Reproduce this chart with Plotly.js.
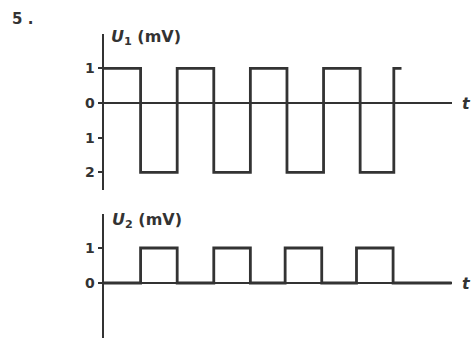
<!DOCTYPE html>
<html>
<head>
<meta charset="utf-8">
<script src="https://cdn.plot.ly/plotly-3.0.1.min.js"></script>
<style>html,body{margin:0;padding:0;background:#fff;}#chart{width:474px;height:338px;}</style>
</head>
<body>
<div id="chart"></div>
<script>
// U1 square wave: switching times (t) and levels (mV, drawn downward as negative)
const u1Time = [0, 1, 2, 3, 4, 5, 6, 7, 7.92, 8.13];
const u1Level = [1, -2, 1, -2, 1, -2, 1, -2, 1, 1];
// U2 pulse train
const u2Time = [0, 1, 2, 3, 4, 4.95, 5.95, 6.9, 7.9, 9.5];
const u2Level = [0, 1, 0, 1, 0, 1, 0, 1, 0, 0];
// tick labels
const u1TickVals = [1, 0, -1, -2];
const u1TickText = ['<b>1</b>', '<b>0</b>', '<b>1</b>', '<b>2</b>'];
const u2TickVals = [1, 0];
const u2TickText = ['<b>1</b>', '<b>0</b>'];

const ink = '#333333';
const W = 474, H = 338;
const px = x => x / W;
const py = y => 1 - y / H;

const traces = [
  {x: u1Time, y: u1Level, xaxis: 'x', yaxis: 'y', mode: 'lines',
   line: {shape: 'hv', color: ink, width: 2.8}, hoverinfo: 'skip'},
  {x: u2Time, y: u2Level, xaxis: 'x2', yaxis: 'y2', mode: 'lines',
   line: {shape: 'hv', color: ink, width: 2.8}, hoverinfo: 'skip'}
];

const txtFamily = 'DejaVu Sans, Liberation Sans, sans-serif';
const tickFont = {family: txtFamily, size: 14, color: ink};
const xCommon = {range: [0, 9.51], showgrid: false, zeroline: false, showline: false,
                 showticklabels: false, ticks: '', fixedrange: true};
const yCommon = {showgrid: false, zeroline: true, zerolinecolor: ink, zerolinewidth: 2.6,
                 showline: true, linecolor: ink, linewidth: 2.4, ticks: 'outside',
                 ticklen: 4, tickwidth: 2, tickcolor: ink, tickfont: tickFont, fixedrange: true};

const labelFont = {family: txtFamily, size: 16, color: ink};
const layout = {
  width: W, height: H,
  margin: {l: 0, r: 0, t: 0, b: 0},
  paper_bgcolor: '#ffffff', plot_bgcolor: 'rgba(0,0,0,0)',
  showlegend: false,
  xaxis: Object.assign({}, xCommon, {domain: [px(104), px(452)], anchor: 'y'}),
  xaxis2: Object.assign({}, xCommon, {domain: [px(104), px(452)], anchor: 'y2'}),
  yaxis: Object.assign({}, yCommon, {domain: [py(190), py(34)], anchor: 'x',
    range: [-2.51, 1.99], tickvals: u1TickVals, ticktext: u1TickText}),
  yaxis2: Object.assign({}, yCommon, {domain: [py(338), py(214)], anchor: 'x2',
    range: [-1.571, 1.971], tickvals: u2TickVals, ticktext: u2TickText}),
  annotations: [
    {text: '<b>5 .</b>', x: px(10), y: py(19), xref: 'paper', yref: 'paper', xanchor: 'left', yanchor: 'middle',
     showarrow: false, font: {family: txtFamily, size: 15, color: ink}},
    {text: '<b><i>U</i><sub>1</sub> (mV)</b>', x: px(109), y: py(37), xref: 'paper', yref: 'paper', xanchor: 'left', yanchor: 'middle',
     showarrow: false, font: labelFont},
    {text: '<b><i>U</i><sub>2</sub> (mV)</b>', x: px(110), y: py(220), xref: 'paper', yref: 'paper', xanchor: 'left', yanchor: 'middle',
     showarrow: false, font: labelFont},
    {text: '<b><i>t</i></b>', x: px(460), y: py(103), xref: 'paper', yref: 'paper', xanchor: 'left', yanchor: 'middle',
     showarrow: false, font: labelFont},
    {text: '<b><i>t</i></b>', x: px(460), y: py(283), xref: 'paper', yref: 'paper', xanchor: 'left', yanchor: 'middle',
     showarrow: false, font: labelFont}
  ]
};

Plotly.newPlot('chart', traces, layout, {displayModeBar: false, staticPlot: true});
</script>
</body>
</html>
